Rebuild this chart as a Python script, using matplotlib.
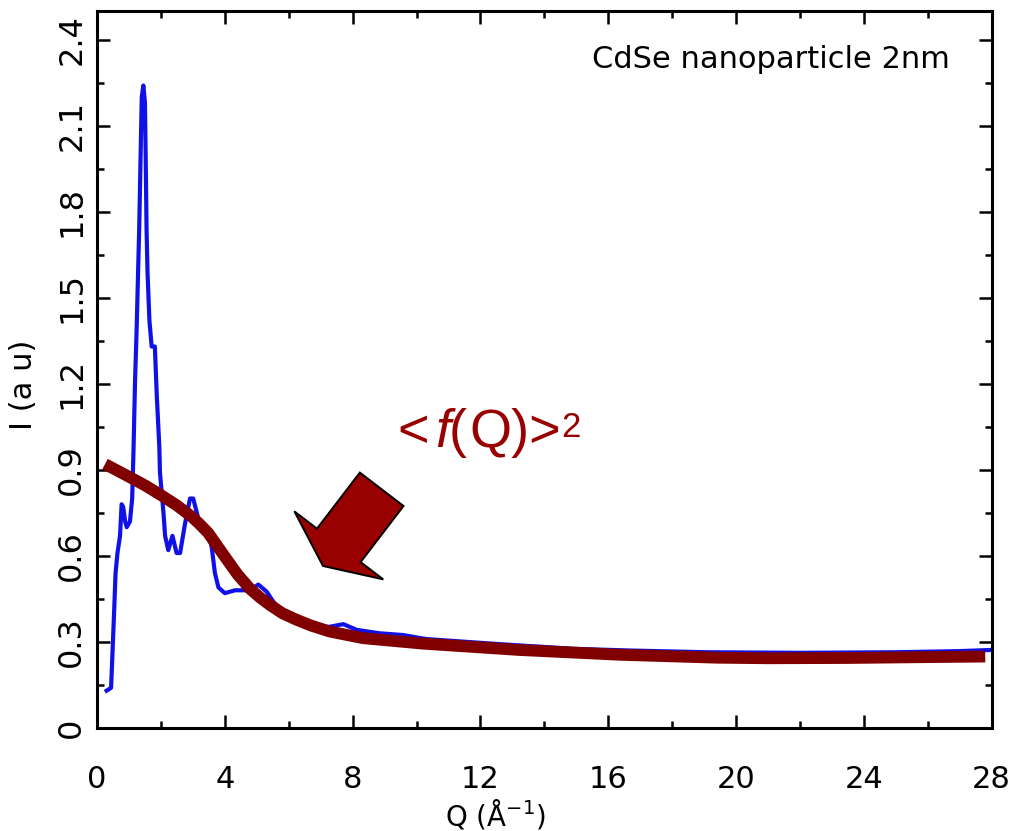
import matplotlib
matplotlib.use("Agg")
import matplotlib.pyplot as plt
from matplotlib.patches import FancyArrow
from matplotlib.transforms import IdentityTransform
from matplotlib.ticker import MultipleLocator, FormatStrFormatter

# measured intensity, CdSe nanoparticle 2nm
q_data = [0.30, 0.44, 0.48, 0.54, 0.58, 0.64, 0.72, 0.77, 0.82, 0.88, 0.93, 1.03,
          1.10, 1.14, 1.19, 1.24, 1.29, 1.32, 1.37, 1.40, 1.45, 1.50, 1.53, 1.55,
          1.58, 1.64, 1.71, 1.81, 1.87, 1.95, 1.97, 2.08, 2.13, 2.23, 2.36, 2.49,
          2.60, 2.75, 2.91, 3.01, 3.17, 3.33, 3.43, 3.59, 3.69, 3.80, 4.00, 4.32,
          4.58, 4.75, 5.05, 5.31, 5.52, 5.73, 6.25, 6.87, 7.29, 7.71, 8.13, 8.85,
          9.58, 10.3, 12.5, 14.9, 16.7, 19.1, 22.0, 25.0, 27.0, 28.0]
i_data = [0.13, 0.14, 0.25, 0.42, 0.54, 0.61, 0.67, 0.78, 0.77, 0.72, 0.70, 0.72,
          0.80, 0.96, 1.21, 1.39, 1.61, 1.74, 2.03, 2.20, 2.24, 2.18, 1.93, 1.74,
          1.59, 1.42, 1.33, 1.33, 1.16, 0.98, 0.89, 0.75, 0.67, 0.62, 0.67, 0.61,
          0.61, 0.71, 0.80, 0.80, 0.73, 0.71, 0.70, 0.63, 0.54, 0.49, 0.47, 0.48,
          0.48, 0.48, 0.50, 0.475, 0.44, 0.415, 0.38, 0.35, 0.353, 0.362, 0.342, 0.33,
          0.324, 0.31, 0.293, 0.276, 0.27, 0.264, 0.262, 0.264, 0.268, 0.272]

# form factor <f(Q)>^2
q_ff = [0.25, 1.0, 1.5, 2.0, 2.5, 2.96, 3.2, 3.48, 3.75, 4.11, 4.4, 4.79, 5.1,
        5.41, 5.8, 6.25, 6.7, 7.29, 8.33, 10.2, 13.2, 16.4, 19.4, 21.0, 23.5,
        26.0, 27.8]
i_ff = [0.92, 0.876, 0.846, 0.812, 0.776, 0.737, 0.712, 0.68, 0.637, 0.58, 0.535,
        0.485, 0.455, 0.429, 0.40, 0.377, 0.357, 0.336, 0.313, 0.294, 0.272,
        0.255, 0.245, 0.243, 0.244, 0.247, 0.249]

x_ticks = [0, 4, 8, 12, 16, 20, 24, 28]
y_ticks = [0, 0.3, 0.6, 0.9, 1.2, 1.5, 1.8, 2.1, 2.4]

fig = plt.figure(figsize=(10.16, 8.31), dpi=100)
ax = fig.add_axes([0.0955, 0.124, 0.8805, 0.8628])

ax.plot(q_data, i_data, color="#1010e8", lw=3, zorder=2)
ax.plot(q_ff, i_ff, color="#800000", lw=8.5, solid_capstyle="butt", zorder=3)

ax.set_xlim(0, 28)
ax.set_ylim(0, 2.5)
ax.set_xticks(x_ticks)
ax.set_yticks(y_ticks)
ax.xaxis.set_minor_locator(MultipleLocator(2))
ax.yaxis.set_minor_locator(MultipleLocator(0.15))
ax.yaxis.set_major_formatter(FormatStrFormatter("%g"))

ax.tick_params(which="both", direction="in", top=True, right=True, width=1.8, color="black")
ax.tick_params(which="major", length=9.5)
ax.tick_params(which="minor", length=5)
ax.tick_params(axis="x", which="major", labelsize=22, pad=27)
ax.tick_params(axis="y", which="major", labelsize=23, pad=7)
for lab in ax.get_yticklabels():
    lab.set_rotation(90)
    lab.set_va("center")
for sp in ax.spines.values():
    sp.set_linewidth(2.2)

ax.set_xlabel("Q (Å$^{-1}$)", fontsize=20)
ax.set_ylabel("I (a u)", fontsize=22)
ax.xaxis.set_label_coords(0.445, -0.097)
ax.yaxis.set_label_coords(-0.066, 0.478)

ax.text(0.953, 0.932, "CdSe nanoparticle 2nm", transform=ax.transAxes,
        ha="right", va="center", fontsize=22)

# <f(Q)>^2 label built from pieces, each hung on the right edge of the previous one
red = "#990000"
t1 = ax.text(0.336, 0.376, "<", transform=ax.transAxes, ha="left", va="bottom",
             fontsize=39, color=red, family="Liberation Sans")
t2 = ax.annotate("f", xy=(1, 0), xycoords=t1, xytext=(4, 0), textcoords="offset points",
                 ha="left", va="bottom", fontsize=39, color=red,
                 family="Liberation Sans", style="italic")
t3 = ax.annotate("(", xy=(1, 0), xycoords=t2, xytext=(-1, 0), textcoords="offset points",
                 ha="left", va="bottom", fontsize=39, color=red, family="Liberation Sans")
t4 = ax.annotate("Q)>", xy=(1, 0), xycoords=t3, xytext=(2, 0), textcoords="offset points",
                 ha="left", va="bottom", fontsize=39, color=red, family="Liberation Sans")
ax.annotate("2", xy=(1, 1), xycoords=t4, xytext=(0, -2), textcoords="offset points",
            ha="left", va="top", fontsize=25, color=red, family="Liberation Sans")

# block arrow pointing at the form factor curve (figure pixels)
arrow = FancyArrow(381.7, 831 - 489.3, -58.7, -76.7, width=55, head_width=112,
                   head_length=26, length_includes_head=True,
                   facecolor=red, edgecolor="black", lw=1.4,
                   transform=IdentityTransform())
fig.patches.append(arrow)

fig.savefig("out.png", dpi=100)
